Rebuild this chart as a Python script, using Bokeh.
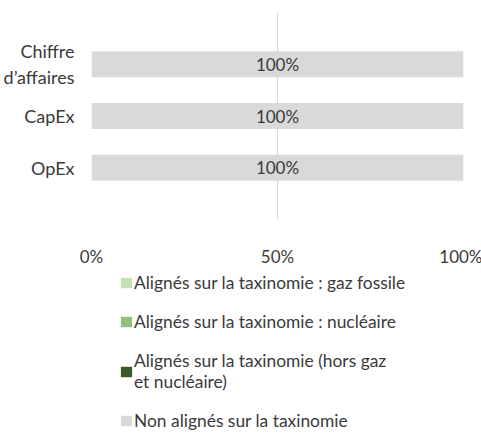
from bokeh.plotting import figure
from bokeh.layouts import column
from bokeh.models import (FactorRange, Range1d, Legend, LegendItem, FixedTicker,
                          LabelSet, ColumnDataSource)
from bokeh.core.properties import value
from bokeh.embed import file_html
from bokeh.resources import INLINE

# ---- data ----
categories = ["OpEx", "CapEx", "Chiffre\nd\u2019affaires"]
gaz_fossile = [0, 0, 0]
nucleaire = [0, 0, 0]
hors_gaz_nucleaire = [0, 0, 0]
non_alignes = [100, 100, 100]
bar_labels = ["100%", "100%", "100%"]
x_ticks = [0, 50, 100]
x_tick_labels = ["0%", "50%", "100%"]
series_keys = ["gaz", "nuc", "hors", "non"]
series_names = [
    "Align\u00e9s sur la taxinomie : gaz fossile",
    "Align\u00e9s sur la taxinomie : nucl\u00e9aire",
    "Align\u00e9s sur la taxinomie (hors gaz\net nucl\u00e9aire)",
    "Non align\u00e9s sur la taxinomie",
]
colors = ["#C5DFB7", "#93BF7E", "#3A5A27", "#D9D9D9"]

FONT = "Lato"
FS = "17px"
TXT = "#3A3A3A"

data = dict(cat=categories, gaz=gaz_fossile, nuc=nucleaire,
            hors=hors_gaz_nucleaire, non=non_alignes)
src = ColumnDataSource(data)

# ---------------- chart ----------------
p = figure(frame_width=372, frame_height=207, output_backend="svg",
           toolbar_location=None,
           y_range=FactorRange(*categories, range_padding=1/3),
           x_range=Range1d(0, 100),
           min_border_left=90, min_border_right=19, min_border_top=12,
           min_border_bottom=51)

renderers = p.hbar_stack(series_keys, y="cat", height=0.5, fill_color=colors,
                         line_color=None, source=src)

starts = [g + n + h for g, n, h in zip(gaz_fossile, nucleaire, hors_gaz_nucleaire)]
mids = [s + v / 2 for s, v in zip(starts, non_alignes)]
lab_src = ColumnDataSource(dict(x=mids, y=categories, t=bar_labels))
p.add_layout(LabelSet(x="x", y="y", text="t", source=lab_src,
                      text_align="center", text_baseline="middle",
                      text_font=value(FONT), text_font_size=FS, text_color=TXT))

p.xaxis.ticker = FixedTicker(ticks=x_ticks)
p.xaxis.major_label_overrides = {t: l for t, l in zip(x_ticks, x_tick_labels)}
p.xaxis.axis_line_color = None
p.xaxis.major_tick_line_color = None
p.xaxis.minor_tick_line_color = None
p.xaxis.major_label_standoff = 20
p.xaxis.major_label_text_font = FONT
p.xaxis.major_label_text_font_size = FS
p.xaxis.major_label_text_color = TXT

p.yaxis.axis_line_color = None
p.yaxis.major_tick_line_color = None
p.yaxis.minor_tick_line_color = None
p.yaxis.major_label_standoff = 11
p.yaxis.major_label_text_font = FONT
p.yaxis.major_label_text_font_size = "18px"
p.yaxis.major_label_text_color = TXT

p.xgrid.ticker = FixedTicker(ticks=x_ticks)
p.xgrid.grid_line_color = "#D9D9D9"
p.ygrid.grid_line_color = None
p.outline_line_color = None

# ---------------- legend panel ----------------
# same series as hidden renderers: only their legend entries are drawn
lg = figure(frame_width=372, frame_height=163, output_backend="svg",
            toolbar_location=None,
            y_range=FactorRange(*categories), x_range=Range1d(0, 100),
            x_axis_location=None, y_axis_location=None,
            min_border_left=90, min_border_right=19, min_border_top=0,
            min_border_bottom=0)
lg.grid.visible = False
lg.outline_line_color = None
lg_renderers = lg.hbar_stack(series_keys, y="cat", height=0.5, fill_color=colors,
                             line_color=None, source=src)
for r in lg_renderers:
    r.visible = False

items = [LegendItem(label=n, renderers=[r]) for n, r in zip(series_names, lg_renderers)]
legend = Legend(items=items, location=(28, 2), orientation="vertical",
                glyph_width=14, glyph_height=13, label_height=20, spacing=18,
                label_standoff=1, padding=0, margin=0, click_policy="none",
                border_line_alpha=0, background_fill_alpha=0,
                label_text_font=FONT, label_text_font_size="17.4px",
                label_text_color=TXT)
lg.add_layout(legend, "center")

layout = column(p, lg, spacing=0)
open("out.html", "w").write(file_html(layout, INLINE))
